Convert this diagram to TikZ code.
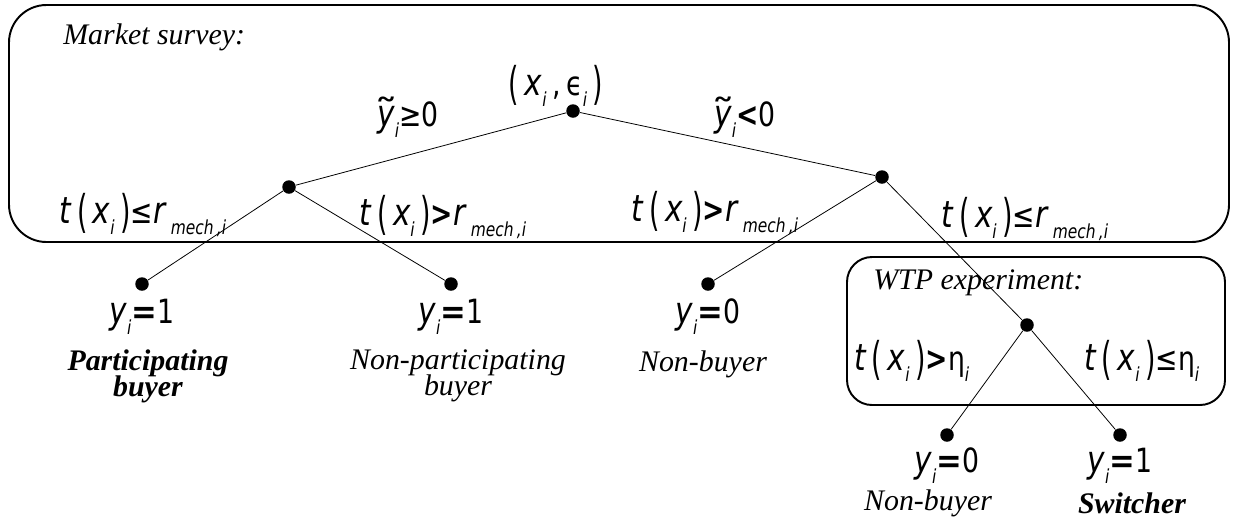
\documentclass[tikz,border=0pt]{standalone}
\usepackage{fontspec}
\usepackage{graphicx}
\setmainfont{Liberation Serif}
\newfontfamily\mfont[FakeStretch=0.8]{DejaVu Sans}
\newcommand\V[1]{{\fontsize{21}{21}\selectfont\itshape #1}}
\newcommand\sbv[1]{\raisebox{-0.6ex}{\fontsize{11}{11}\selectfont\itshape #1}}
\newcommand\pl{\raisebox{-0.1em}{\scalebox{1}[1.35]{(}}}
\newcommand\pr{\raisebox{-0.1em}{\scalebox{1}[1.35]{)}}}
\newcommand\ty{\ooalign{\V{y}\cr\hidewidth\raisebox{0.05em}{\scalebox{1.8}[1.1]{\char"02DC}}\hidewidth\cr}}
\newcommand\tx{\V{t}\,\pl\,\V{x}\sbv{i}\,\pr}
\newcommand\rmi{\V{r}\,\sbv{mech\,,i}}
\newcommand\eqs{\scalebox{1.15}[1]{\textbf{=}}}
\newcommand\twolines{\fontsize{17}{14.8}\selectfont\lineskiplimit -20pt\relax\lineskip 0pt\relax}
\tikzset{
  dot/.style={circle,fill=black,inner sep=0pt,minimum size=0.27cm},
  box/.style={draw=black,line width=1.1pt},
  edge/.style={draw=black,line width=0.45pt},
  mlab/.style={font=\mfont\fontsize{19}{21}\selectfont,inner sep=0pt},
  tlab/.style={font=\fontsize{17}{17}\selectfont\itshape,inner sep=0pt,align=center},
  tlab2/.style={font=\twolines\itshape,inner sep=0pt,align=center},
}
\begin{document}
\begin{tikzpicture}[x=0.02cm,y=-0.02cm]
\useasboundingbox (0,0) rectangle (1236,525);
% boxes
\draw[box,rounded corners=0.75cm] (9,5) rectangle (1229,242);
\draw[box,rounded corners=0.5cm] (847,257) rectangle (1225,405);
\node[tlab,anchor=west] (ms) at (63,37) {Market survey:};
\node[tlab,anchor=west] (wtp) at (873,283) {WTP experiment:};
% dots
\node[dot] (root) at (573,111) {};
\node[dot] (L) at (289,187) {};
\node[dot] (R) at (882,177) {};
\node[dot] (LL) at (142,284) {};
\node[dot] (LR) at (451,284) {};
\node[dot] (RL) at (708,284) {};
\node[dot] (RR) at (1027,325) {};
\node[dot] (RRL) at (947,435) {};
\node[dot] (RRR) at (1120,435) {};
% edges
\draw[edge] (root) -- (L);
\draw[edge] (root) -- (R);
\draw[edge] (L) -- (LL);
\draw[edge] (L) -- (LR);
\draw[edge] (R) -- (RL);
\draw[edge] (R) -- (RR);
\draw[edge] (RR) -- (RRL);
\draw[edge] (RR) -- (RRR);
% math labels
\node[mlab] (lroot) at (556,86) {\pl\,\V{x}\sbv{i}\,,\,\char"03F5\sbv{i}\,\pr};
\node[mlab] (lyge) at (408,120) {\ty\sbv{i}≥0};
\node[mlab] (lylt) at (745,120) {\ty\sbv{i}\textbf{<}0};
\node[mlab] (l1) at (143,215) {\tx≤\rmi};
\node[mlab] (l2) at (443,217) {\tx\textbf{>}\rmi};
\node[mlab] (l3) at (715,213) {\tx\textbf{>}\rmi};
\node[mlab] (l4) at (1025,219) {\tx≤\rmi};
\node[mlab] (l5) at (912,361) {\tx\textbf{>}η\sbv{i}};
\node[mlab] (l6) at (1142,361) {\tx≤η\sbv{i}};
\node[mlab] (y1) at (142,317) {\V{y}\sbv{i}\eqs1};
\node[mlab] (y2) at (451,317) {\V{y}\sbv{i}\eqs1};
\node[mlab] (y3) at (708,317) {\V{y}\sbv{i}\eqs0};
\node[mlab] (y4) at (947,466) {\V{y}\sbv{i}\eqs0};
\node[mlab] (y5) at (1120,466) {\V{y}\sbv{i}\eqs1};
% text labels
\node[tlab2,font=\twolines\bfseries\itshape] (t1) at (148,376) {Participating\\buyer};
\node[tlab2] (t2) at (458,376) {Non-participating\\buyer};
\node[tlab] (t3) at (703,364) {Non-buyer};
\node[tlab] (t4) at (928,503) {Non-buyer};
\node[tlab,font=\fontsize{17}{17}\selectfont\bfseries\itshape] (t5) at (1132,503) {Switcher};
\end{tikzpicture}
\end{document}
